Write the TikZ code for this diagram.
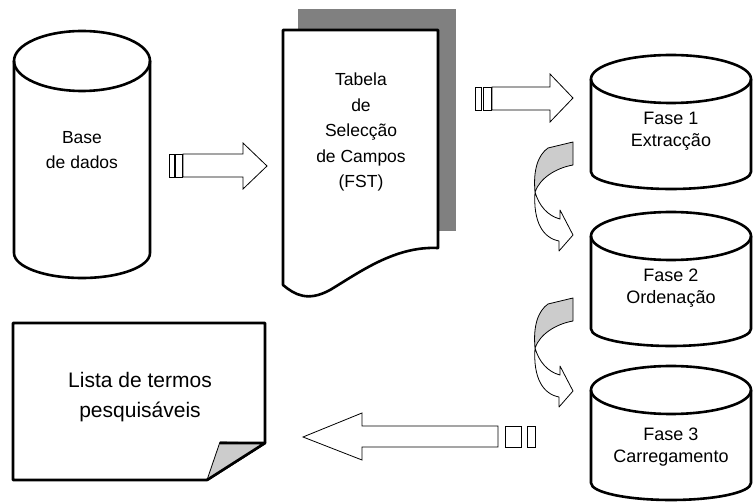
\documentclass[tikz,border=0pt]{standalone}
\usepackage{fontspec}
\setmainfont{Liberation Sans}
\usetikzlibrary{calc,positioning}

\begin{document}
\begin{tikzpicture}[x=1pt,y=-1pt,
    outline/.style={line width=2.6pt,line join=round},
    blockarrow/.style={draw,line width=0.8pt,fill=white},
    twist/.style={draw,line width=0.8pt,line join=round},
    txt/.style={align=center,font=\fontsize{17.5}{25.5}\selectfont},
    phase/.style={align=center,font=\fontsize{18}{22}\selectfont}]
  \useasboundingbox (0,0) rectangle (756,502);

  % base de dados
  \draw[outline,fill=white] (14,61) -- (14,253) arc[start angle=180,end angle=0,x radius=68,y radius=25] -- (150,61);
  \draw[outline] (82,61) ellipse[x radius=68,y radius=30];
  \node[txt] (base) at (82,150) {Base\\de dados};

  % FST
  \fill[gray] (298,9) rectangle (456,231);
  \draw[outline,fill=white] (283,30) -- (438,30) -- (438,248) .. controls (395,246) and (360,272) .. (330,290) .. controls (308,302) and (295,295) .. (283,285) -- cycle;
  \node[txt] (fst) at (361,132) {Tabela\\de\\Selecção\\de Campos\\(FST)};

  \draw[blockarrow] (183,154) -- (243,154) -- (243,143) -- (267,166) -- (243,189) -- (243,177) -- (183,177) -- cycle;
  \draw[blockarrow] (169,154) rectangle (174,177);
  \draw[blockarrow] (175,154) rectangle (182,177);

  \draw[blockarrow] (492,87) -- (550,87) -- (550,74) -- (573,98) -- (550,122) -- (550,110) -- (492,110) -- cycle;
  \draw[blockarrow] (475,87) rectangle (481,110);
  \draw[blockarrow] (483,87) rectangle (491,110);

  % fases
  \draw[outline,fill=white] (591,79) -- (591,172) arc[start angle=180,end angle=0,x radius=80,y radius=17] -- (751,79);
  \draw[outline] (671,79) ellipse[x radius=80,y radius=24];
  \node[phase] (fase1) at (671,131) {Fase 1\\Extracção};

  \draw[outline,fill=white] (591,236) -- (591,329) arc[start angle=180,end angle=0,x radius=80,y radius=17] -- (751,236);
  \draw[outline] (671,236) ellipse[x radius=80,y radius=24];
  \node[phase] (fase2) at (671,288) {Fase 2\\Ordenação};

  \draw[outline,fill=white] (591,390) -- (591,483) arc[start angle=180,end angle=0,x radius=80,y radius=17] -- (751,390);
  \draw[outline] (671,390) ellipse[x radius=80,y radius=24];
  \node[phase] (fase3) at (671,447) {Fase 3\\Carregamento};

  \draw[twist,fill=gray!40] (535,192) .. controls (533,170) and (538,155) .. (548,148) -- (573,142) -- (573,165) .. controls (556,168) and (540,178) .. (535,192);
  \draw[twist,fill=white] (535,192) .. controls (533,222) and (543,238) .. (559,241) -- (559,251) -- (573,235) -- (560,210) -- (560,219) .. controls (548,216) and (539,206) .. (535,192) -- cycle;

  \draw[twist,fill=gray!40] (535,348) .. controls (533,326) and (538,311) .. (548,304) -- (573,298) -- (573,321) .. controls (556,324) and (540,334) .. (535,348);
  \draw[twist,fill=white] (535,348) .. controls (533,378) and (543,394) .. (559,397) -- (559,407) -- (573,391) -- (560,366) -- (560,375) .. controls (548,372) and (539,362) .. (535,348) -- cycle;

  % lista
  \draw[blockarrow] (362,426) -- (498,426) -- (498,447) -- (362,447) -- (362,460) -- (303,437) -- (362,413) -- cycle;
  \draw[blockarrow] (505,426) rectangle (521,447);
  \draw[blockarrow] (527,426) rectangle (535,447);

  \draw[outline,fill=white] (13,323) -- (265,323) -- (265,443) -- (207,480) -- (13,480) -- cycle;
  \draw[twist,fill=gray!40] (207,480) -- (220,442) -- (265,443) -- cycle;
  \draw[outline] (220,443) -- (265,443) -- (207,480);
  \node[align=center,font=\fontsize{21}{30}\selectfont] (lista) at (140,397) {Lista de termos\\pesquisáveis};
\end{tikzpicture}
\end{document}
